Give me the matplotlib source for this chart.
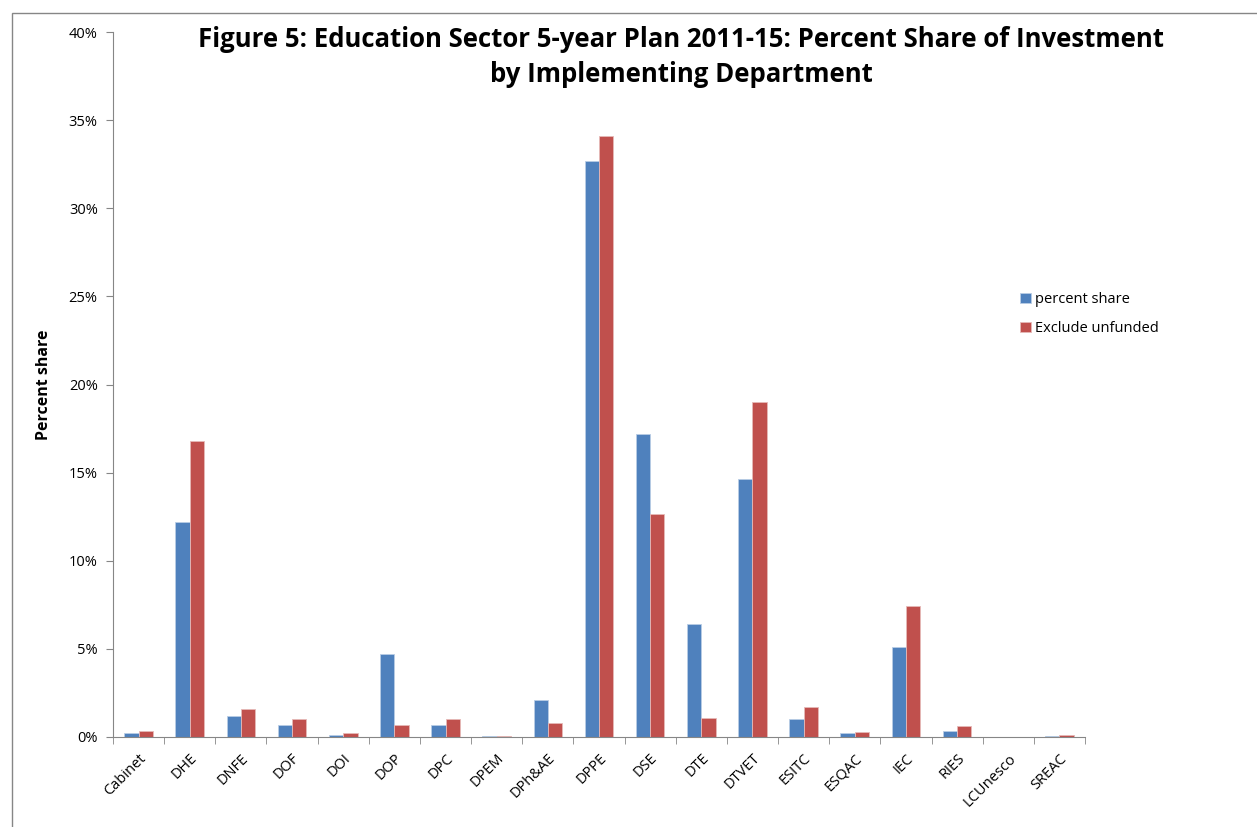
import numpy as np
import matplotlib.pyplot as plt
from matplotlib.patches import Rectangle
from matplotlib.ticker import PercentFormatter

departments = ['Cabinet', 'DHE', 'DNFE', 'DOF', 'DOI', 'DOP', 'DPC', 'DPEM', 'DPh&AE',
               'DPPE', 'DSE', 'DTE', 'DTVET', 'ESITC', 'ESQAC', 'IEC', 'RIES',
               'LCUnesco', 'SREAC']
percent_share = [0.21, 12.2, 1.21, 0.68, 0.10, 4.69, 0.68, 0.04, 2.10,
                 32.7, 17.2, 6.39, 14.65, 1.00, 0.21, 5.09, 0.34, 0.0, 0.06]
exclude_unfunded = [0.34, 16.8, 1.57, 1.04, 0.21, 0.68, 1.04, 0.04, 0.79,
                    34.1, 12.65, 1.10, 19.0, 1.69, 0.28, 7.43, 0.62, 0.0, 0.11]

plt.rcParams['font.family'] = ['Open Sans', 'DejaVu Sans']

fig = plt.figure(figsize=(12.57, 8.27), dpi=100)
ax = fig.add_axes([113 / 1257, 1 - 737 / 827, 972 / 1257, 705 / 827])

x = np.arange(len(departments))
w = 0.28
ax.bar(x - w / 2, percent_share, w, color='#4F81BD', edgecolor='#B9CDE5',
       linewidth=0.6, label='percent share')
ax.bar(x + w / 2, exclude_unfunded, w, color='#C0504D', edgecolor='#E6B9B8',
       linewidth=0.6, label='Exclude unfunded')

ax.set_xlim(-0.5, len(departments) - 0.5)
ax.set_ylim(0, 40)
ax.set_yticks(np.arange(0, 41, 5))
ax.yaxis.set_major_formatter(PercentFormatter(decimals=0))
ax.set_xticks(x)
ax.set_xticklabels(departments, rotation=45, ha='right', rotation_mode='anchor',
                   fontsize=10.5)
ax.set_xticks(np.arange(-0.5, len(departments)), minor=True)
ax.tick_params(axis='x', which='major', length=0, pad=10)
ax.tick_params(axis='x', which='minor', length=5, color='#868686', direction='out')
ax.tick_params(axis='y', length=5, color='#868686', labelsize=10.5, pad=6)

for s in ['top', 'right']:
    ax.spines[s].set_visible(False)
for s in ['left', 'bottom']:
    ax.spines[s].set_color('#868686')

ax.set_ylabel('Percent share', fontsize=11.5, fontweight='bold', labelpad=12)

fig.text(0.542, 0.931, 'Figure 5: Education Sector 5-year Plan 2011-15: Percent Share of Investment\nby Implementing Department',
         ha='center', va='center', fontsize=18.5, fontweight='bold', linespacing=1.38)

ax.legend(loc='upper left', bbox_to_anchor=(0.92, 0.65), frameon=False,
          fontsize=10.5, handlelength=0.7, handleheight=0.7, handletextpad=0.3,
          labelspacing=1.0)

fig.patches.append(Rectangle((12 / 1257, -0.01), 1.0, 1 - 13 / 827 + 0.01,
                             transform=fig.transFigure, fill=False,
                             edgecolor='#868686', linewidth=1))

fig.savefig('out.png', dpi=100)
